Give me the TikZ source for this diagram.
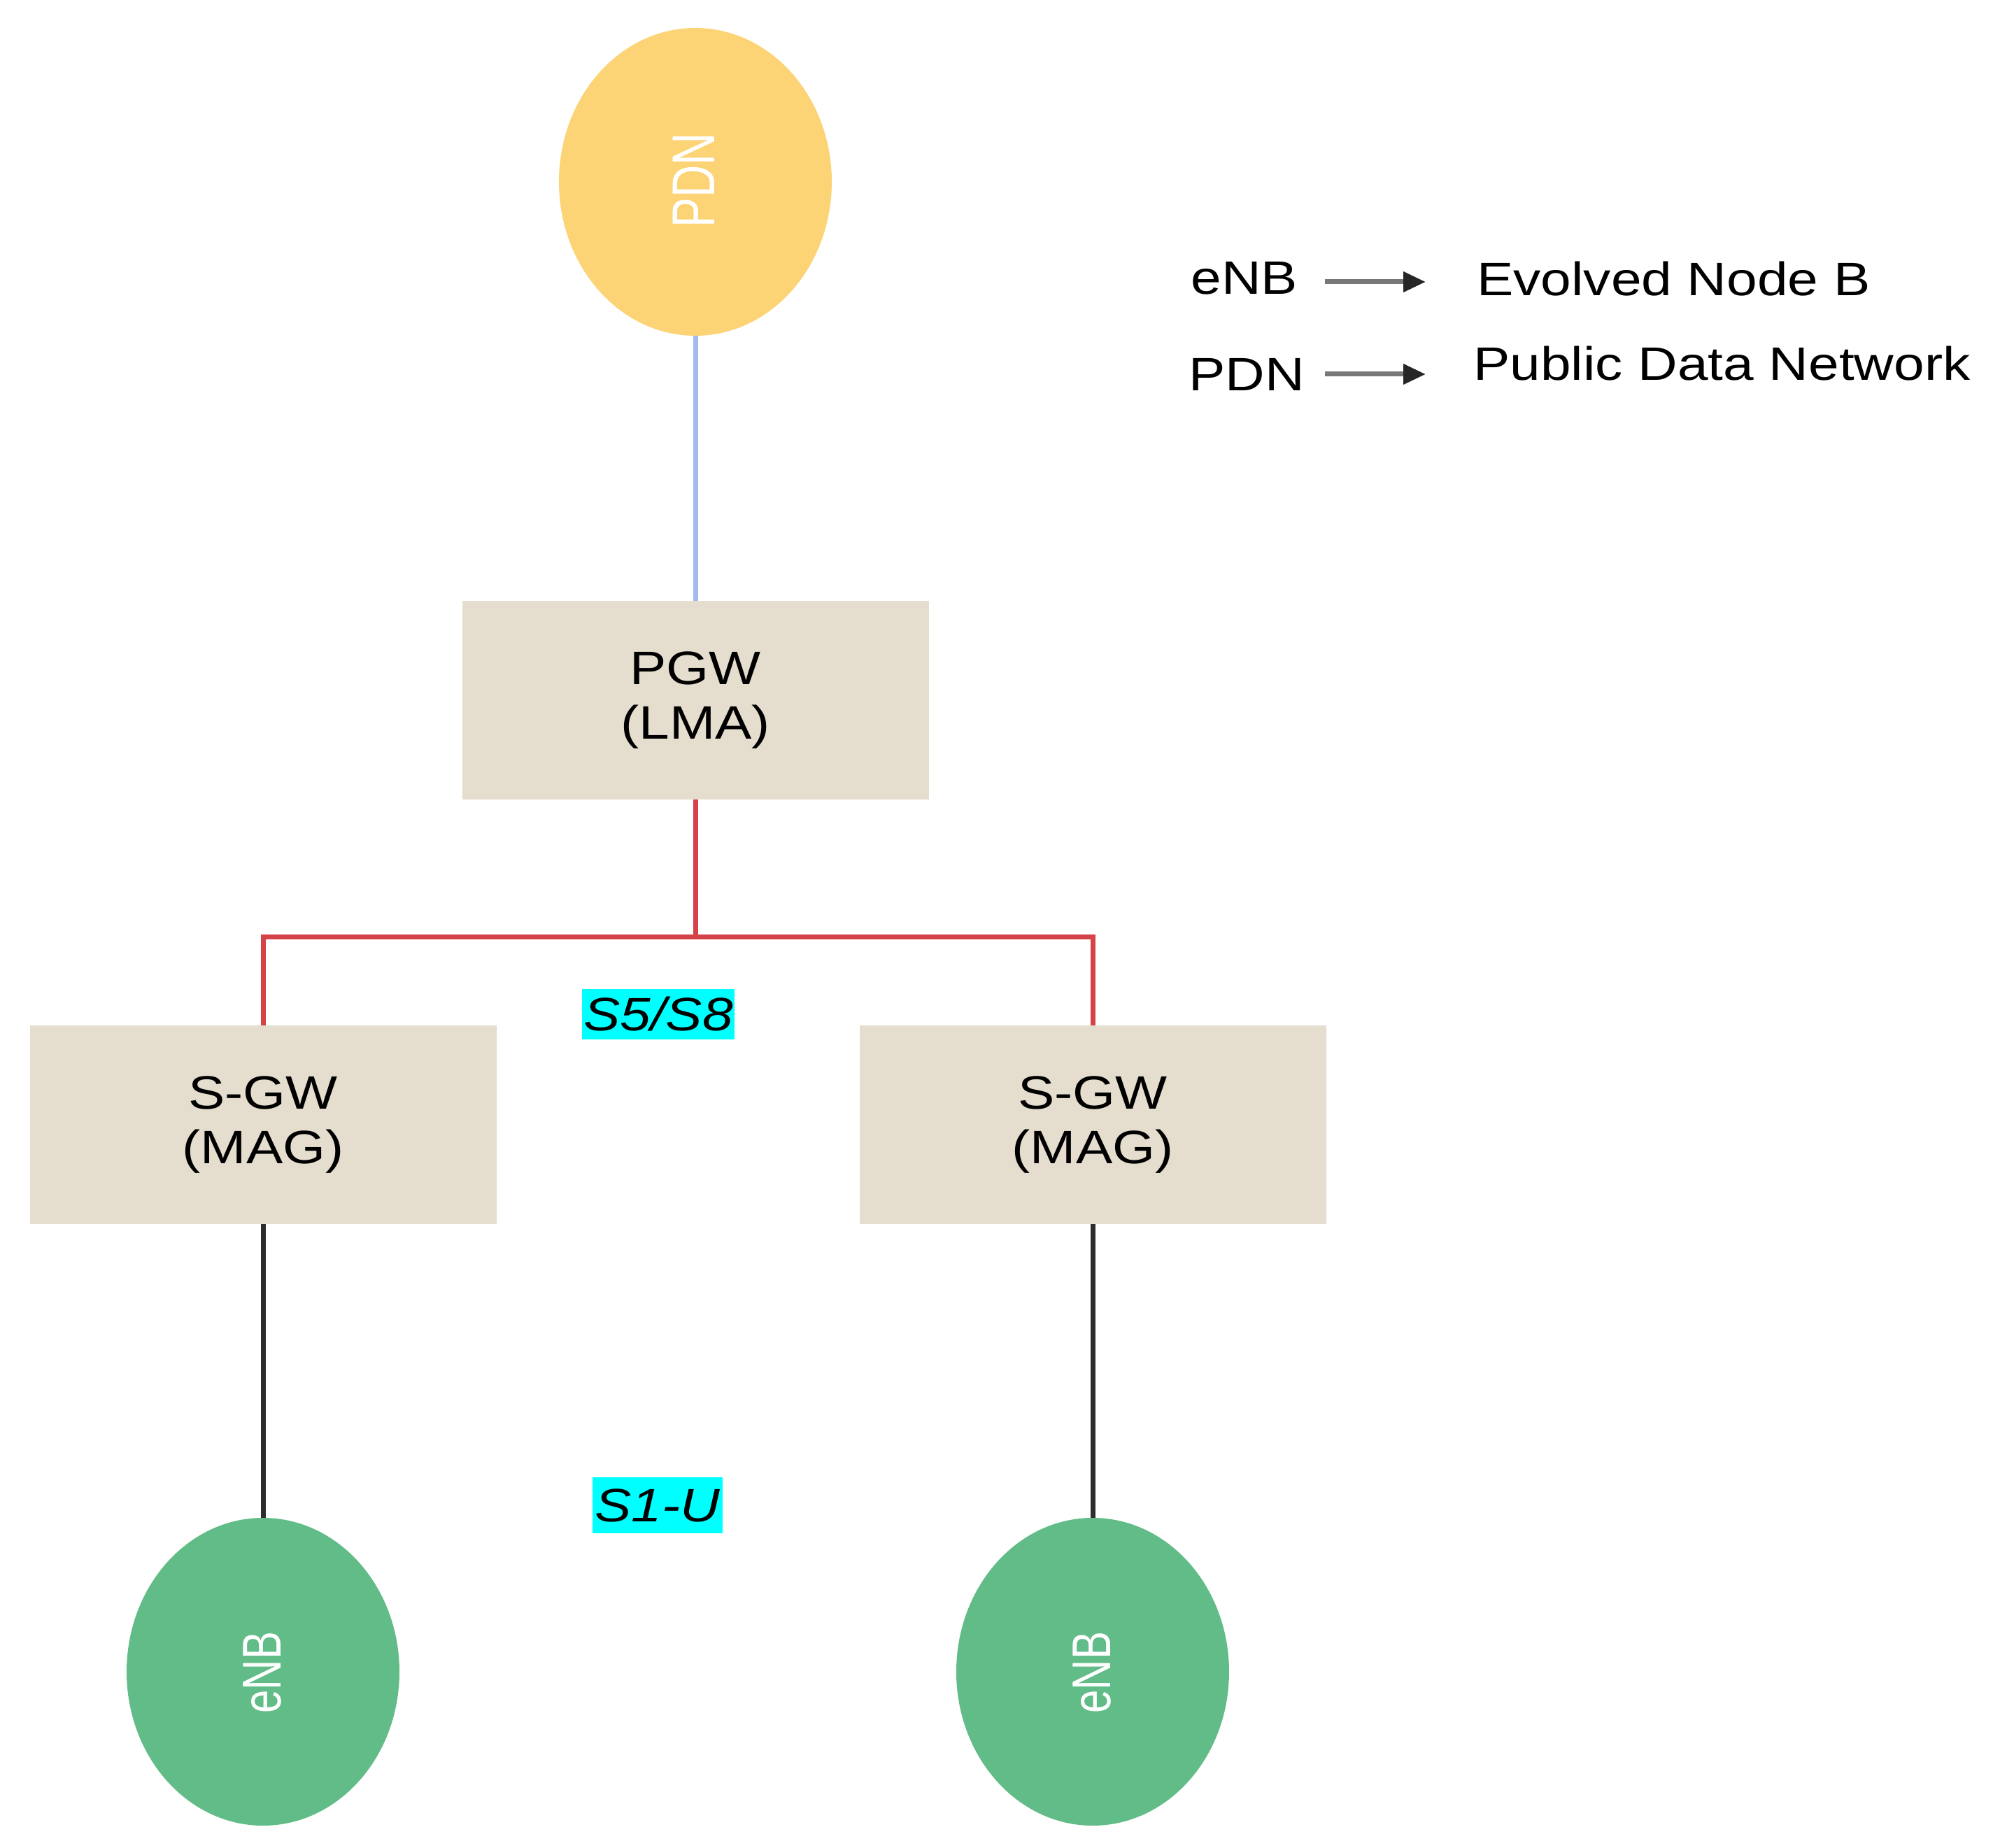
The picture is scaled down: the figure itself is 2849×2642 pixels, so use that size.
\documentclass[tikz,border=0pt]{standalone}
\usepackage{fontspec}
\setmainfont{Liberation Sans}
\newfontfamily\stretchfont[FakeStretch=1.17]{Liberation Sans}
\usetikzlibrary{shapes.geometric,arrows.meta}
\definecolor{pdnyellow}{RGB}{252,211,117}
\definecolor{boxbeige}{RGB}{229,221,205}
\definecolor{enbgreen}{RGB}{98,188,135}
\definecolor{linkblue}{RGB}{163,187,235}
\definecolor{linkred}{RGB}{213,66,72}
\definecolor{linkdark}{RGB}{45,45,45}
\definecolor{arrowgray}{RGB}{120,120,120}
\definecolor{hlcyan}{RGB}{0,255,255}
\begin{document}
\begin{tikzpicture}[x=0.5pt,y=-0.5pt,
  box/.style={rectangle, fill=boxbeige, minimum width=333.5pt, minimum height=142pt,
    inner sep=0pt, align=center, font=\stretchfont\fontsize{33.5}{39}\selectfont},
  oval/.style={ellipse, minimum width=195pt, minimum height=220pt, inner sep=0pt},
  ovaltext/.style={rotate=90, text=white, inner sep=0pt},
  iflabel/.style={fill=hlcyan, minimum width=109pt, minimum height=36pt, inner sep=0pt,
    font=\stretchfont\itshape\fontsize{33.5}{39}\selectfont},
  legendtext/.style={anchor=base west, inner sep=0pt, font=\stretchfont\fontsize{33.5}{39}\selectfont},
  legendarrow/.style={draw=arrowgray, line width=3.5pt, -{Triangle[length=16pt,width=14pt,color=black!85]}},
  conn/.style={line width=3.5pt}
]
\useasboundingbox (0,0) rectangle (2849,2642);

% nodes
\node[oval, fill=pdnyellow] (pdn) at (994,260) {};
\node[ovaltext] (pdnt) at (992,258) {\scalebox{1}[1.35]{\fontsize{32}{36}\selectfont PDN}};

\node[box] (pgw) at (994,1001) {PGW\\(LMA)};
\node[box] (sgw1) at (376,1608) {S-GW\\(MAG)};
\node[box] (sgw2) at (1562,1608) {S-GW\\(MAG)};

\node[oval, fill=enbgreen] (enb1) at (376,2390) {};
\node[ovaltext] (enb1t) at (375,2391) {\scalebox{1}[1.3]{\fontsize{30}{34}\selectfont eNB}};
\node[oval, fill=enbgreen] (enb2) at (1562,2390) {};
\node[ovaltext] (enb2t) at (1561,2391) {\scalebox{1}[1.3]{\fontsize{30}{34}\selectfont eNB}};

\node[iflabel] (s5) at (941,1450) {S5/S8};
\node[iflabel, minimum width=93pt, minimum height=40pt] (s1) at (940,2152) {S1-U};

% connectors
\coordinate (j) at (994,1339);
\draw[conn, linkblue] (pdn.south) -- (pgw.north);
\draw[conn, linkred] (pgw.south) -- (j) -| (sgw1.north);
\draw[conn, linkred] (j) -| (sgw2.north);
\draw[conn, linkdark] (sgw1.south) -- (enb1.north);
\draw[conn, linkdark] (sgw2.south) -- (enb2.north);

% legend
\node[legendtext] (l1a) at (1702,421) {eNB};
\node[legendtext] (l1b) at (2111,423) {Evolved Node B};
\node[legendtext] (l2a) at (1699,559) {PDN};
\node[legendtext] (l2b) at (2106,544) {Public Data Network};
\coordinate (a1s) at (1894,403);
\coordinate (a1e) at (2038,403);
\coordinate (a2s) at (1894,535);
\coordinate (a2e) at (2038,535);
\draw[legendarrow] (a1s) -- (a1e);
\draw[legendarrow] (a2s) -- (a2e);
\end{tikzpicture}
\end{document}
